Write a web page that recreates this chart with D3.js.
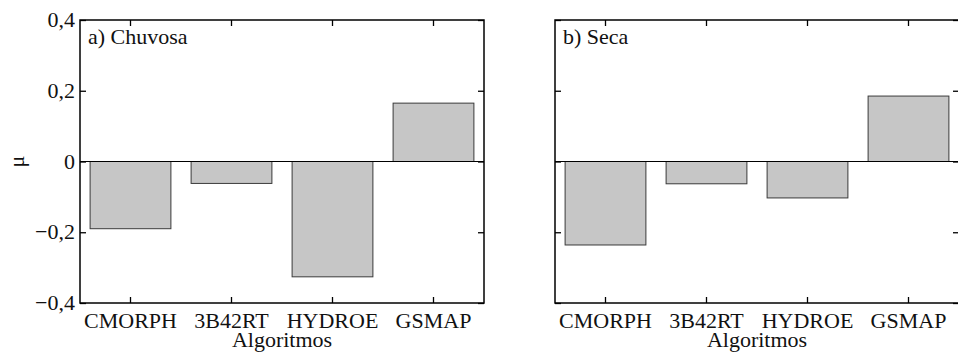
<!DOCTYPE html>
<html>
<head>
<meta charset="utf-8">
<script src="https://cdn.jsdelivr.net/npm/d3@7"></script>
</head>
<body style="margin:0">
<script>
const categories = ['CMORPH', '3B42RT', 'HYDROE', 'GSMAP'];
const chuvosa = [-0.19, -0.062, -0.326, 0.165];
const seca = [-0.236, -0.063, -0.103, 0.185];
const panelTitles = ['a) Chuvosa', 'b) Seca'];
const yTicks = [-0.4, -0.2, 0, 0.2, 0.4];
const yLabel = 'μ';
const xLabel = 'Algoritmos';

const chartWidth = 958;
const chartHeight = 354;
const plotTop = 20;
const plotBottom = 303;
const panelLefts = [80, 555];
const panelWidth = 404;
const tickLen = 6;

const locale = d3.formatLocale({decimal: ',', thousands: '.', grouping: [3], currency: ['', ''], minus: '\u2212'});
const fmt = locale.format('.1f');
const yFormat = d => d === 0 ? '0' : fmt(d);

const y = d3.scaleLinear()
    .domain([-0.4, 0.4])
    .range([plotBottom, plotTop]);

const svg = d3.create('svg')
    .attr('width', chartWidth)
    .attr('height', chartHeight);

// every label goes through here so it gets the serif face
function label(parent, x, yPos, txt, anchor) {
    return parent.append('text')
        .attr('x', x)
        .attr('y', yPos)
        .attr('text-anchor', anchor)
        .attr('fill', '#111')
        .style('font-family', "'Liberation Serif'")
        .style('font-size', '22px')
        .text(txt);
}

[chuvosa, seca].forEach((values, p) => {
    const left = panelLefts[p];
    const x = d3.scaleBand()
        .domain(categories)
        .range([left, left + panelWidth])
        .paddingInner(0.2)
        .paddingOuter(0.1);

    const g = svg.append('g');
    const data = categories.map((c, i) => ({cat: c, value: values[i]}));

    g.selectAll('rect.bar')
        .data(data)
        .join('rect')
        .attr('class', 'bar')
        .attr('x', d => x(d.cat))
        .attr('y', d => y(Math.max(0, d.value)))
        .attr('width', x.bandwidth())
        .attr('height', d => Math.abs(y(d.value) - y(0)))
        .attr('fill', '#c6c6c6')
        .attr('stroke', '#3a3a3a')
        .attr('stroke-width', 1);

    g.append('line')
        .attr('x1', left)
        .attr('x2', left + panelWidth)
        .attr('y1', y(0))
        .attr('y2', y(0))
        .attr('stroke', '#000')
        .attr('stroke-width', 1.2);

    // tick marks only (pointing inward); labels are drawn separately
    g.append('g')
        .attr('transform', `translate(0,${plotBottom})`)
        .call(d3.axisBottom(x).tickSizeInner(-tickLen).tickSizeOuter(0).tickFormat(''));
    g.append('g')
        .attr('transform', `translate(0,${plotTop})`)
        .call(d3.axisTop(x).tickSizeInner(-tickLen).tickSizeOuter(0).tickFormat(''));
    g.append('g')
        .attr('transform', `translate(${left},0)`)
        .call(d3.axisLeft(y).tickValues(yTicks).tickSizeInner(-tickLen).tickSizeOuter(0).tickFormat(''));
    g.append('g')
        .attr('transform', `translate(${left + panelWidth},0)`)
        .call(d3.axisRight(y).tickValues(yTicks).tickSizeInner(-tickLen).tickSizeOuter(0).tickFormat(''));

    g.selectAll('.domain').remove();
    g.selectAll('.tick text').remove();
    g.selectAll('.tick line').attr('stroke', '#000').attr('stroke-width', 1.3);

    g.append('rect')
        .attr('x', left)
        .attr('y', plotTop)
        .attr('width', panelWidth)
        .attr('height', plotBottom - plotTop)
        .attr('fill', 'none')
        .attr('stroke', '#000')
        .attr('stroke-width', 1.5);

    categories.forEach(c => label(g, x(c) + x.bandwidth() / 2, 328, c, 'middle'));

    if (p === 0) {
        yTicks.forEach(t => label(g, left - 5, y(t) + 7, yFormat(t), 'end'));
    }

    label(g, left + 8, 44, panelTitles[p], 'start');
    label(g, left + panelWidth / 2, 347, xLabel, 'middle');
});

label(svg, 0, 0, yLabel, 'middle')
    .attr('transform', `translate(24,${y(0)}) rotate(-90)`);

document.body.appendChild(svg.node());
</script>
</body>
</html>
